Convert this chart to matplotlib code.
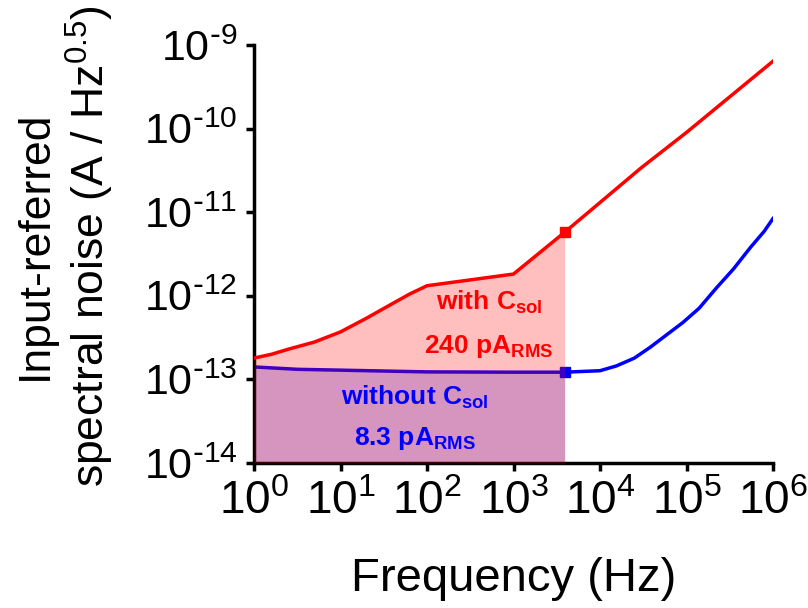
import numpy as np
import matplotlib
matplotlib.use("Agg")
import matplotlib.pyplot as plt

# values (Hz, A/Hz^0.5)
freq_red = [1, 1.6, 2.5, 5, 10, 20, 36, 63, 100, 1000, 3900, 3.0e4, 1.0e5, 1.0e6]
noise_red = [1.8e-13, 2.0e-13, 2.3e-13, 2.8e-13, 3.7e-13, 5.4e-13, 7.6e-13,
             1.05e-12, 1.32e-12, 1.82e-12, 5.75e-12, 3.4e-11, 9.0e-11, 6.4e-10]

freq_blue = [1, 3.2, 10, 100, 1000, 3900, 1.0e4, 1.55e4, 2.5e4, 3.8e4, 9.1e4,
             1.4e5, 2.2e5, 3.5e5, 5.5e5, 7.9e5, 1.0e6]
noise_blue = [1.41e-13, 1.32e-13, 1.29e-13, 1.23e-13, 1.22e-13, 1.22e-13, 1.27e-13,
              1.45e-13, 1.8e-13, 2.42e-13, 4.8e-13, 7.1e-13, 1.23e-12, 2.1e-12,
              3.8e-12, 5.9e-12, 8.4e-12]

f_cut = 3900  # upper integration limit (square markers)
rms_red = "240 pA$_{RMS}$"
rms_blue = "8.3 pA$_{RMS}$"
x_exp = [0, 1, 2, 3, 4, 5, 6]
y_exp = [-14, -13, -12, -11, -10, -9]

plt.rcParams['font.family'] = ['Liberation Sans', 'DejaVu Sans']
plt.rcParams['mathtext.default'] = 'regular'

fig = plt.figure(figsize=(8.08, 6.08), dpi=100)
ax = fig.add_axes([254 / 808, 1 - 463 / 608, 519 / 808, 418 / 608])

fr = np.array(freq_red)
nr = np.array(noise_red)
fb = np.array(freq_blue)
nb = np.array(noise_blue)

mb = fb <= f_cut
mr = fr <= f_cut

# blue fill and line sit under the red fill, as in the original
ax.fill_between(fb[mb], 1e-14, nb[mb], color='blue', alpha=0.22, lw=0, zorder=1)
ax.plot(fb, nb, color='blue', lw=2.5, zorder=2)
ax.plot(fb[mb][-1], nb[mb][-1], 's', color='blue', ms=7.5, zorder=2)
ax.fill_between(fr[mr], 1e-14, nr[mr], color='red', alpha=0.25, lw=0, zorder=3)
ax.plot(fr, nr, color='red', lw=2.5, zorder=4)
ax.plot(fr[mr][-1], nr[mr][-1], 's', color='red', ms=7.5, zorder=4)

ax.set_xscale('log')
ax.set_yscale('log')
ax.set_xlim(1, 1e6)
ax.set_ylim(1e-14, 1e-9)
ax.set_xticks([10.0 ** k for k in x_exp])
ax.set_xticklabels(['$10^{%d}$' % k for k in x_exp])
ax.set_yticks([10.0 ** k for k in y_exp])
ax.set_yticklabels([r'$10^{\text{-}%d}$' % -k for k in y_exp])

for s in ['top', 'right']:
    ax.spines[s].set_visible(False)
for s in ['left', 'bottom']:
    ax.spines[s].set_linewidth(2.5)

ax.tick_params(which='major', direction='out', length=6, width=2.5, pad=6)
ax.tick_params(axis='x', labelsize=33)
ax.tick_params(axis='y', labelsize=31)
ax.tick_params(which='minor', direction='out', length=3, width=2.5)

ax.set_xlabel('Frequency (Hz)', fontsize=34)
ax.xaxis.set_label_coords(0.5, -0.225)
ax.set_ylabel('Input-referred\nspectral noise (A / Hz$^{0.5}$)', fontsize=32,
              linespacing=1.2)
ax.yaxis.set_label_coords(-0.265, 0.52)

ax.text(520, 8.4e-13, 'with C$_{sol}$', color='red', fontsize=19,
        fontweight='bold', ha='center', va='center', zorder=5)
ax.text(520, 2.5e-13, rms_red, color='red', fontsize=19,
        fontweight='bold', ha='center', va='center', zorder=5)
ax.text(73, 6.1e-14, 'without C$_{sol}$', color='blue', fontsize=19,
        fontweight='bold', ha='center', va='center', zorder=5)
ax.text(73, 1.96e-14, rms_blue, color='blue', fontsize=19,
        fontweight='bold', ha='center', va='center', zorder=5)

fig.savefig('out.png', dpi=100)
